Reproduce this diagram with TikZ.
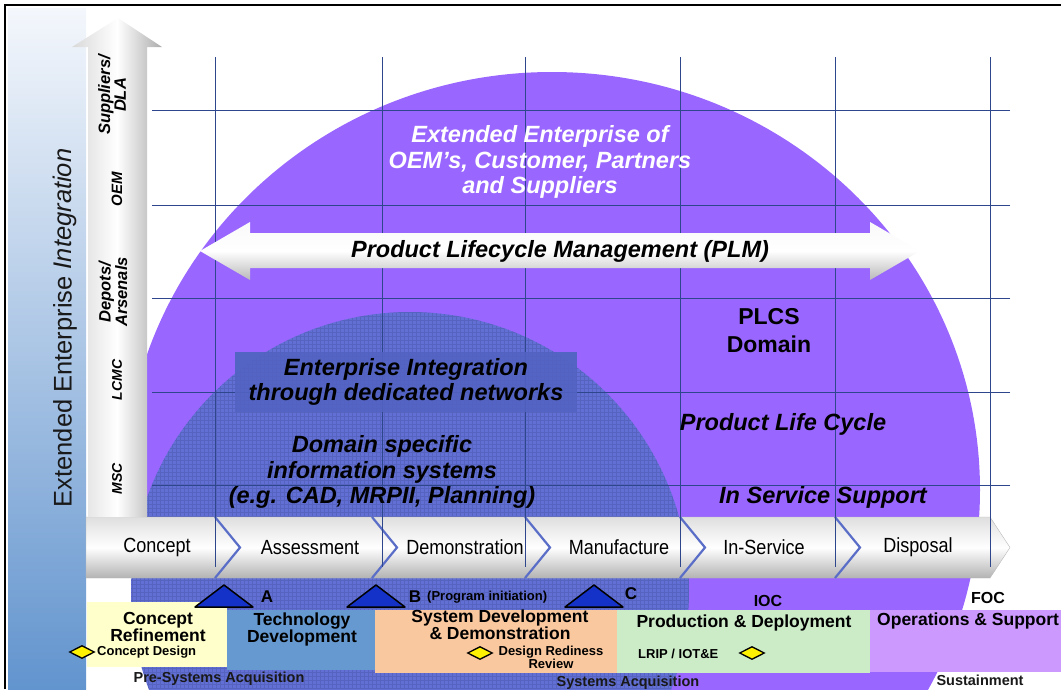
\documentclass[tikz,border=0pt]{standalone}
\usepackage{fontspec}
\setmainfont{Liberation Sans}
\usetikzlibrary{shapes.geometric}

\definecolor{bigPurple}{RGB}{153,102,255}
\definecolor{innerBlue}{RGB}{98,112,214}
\definecolor{netBlue}{RGB}{84,100,196}
\definecolor{gridBlue}{RGB}{45,70,140}
\definecolor{stripTop}{RGB}{244,247,252}
\definecolor{stripBot}{RGB}{98,148,206}
\definecolor{crYellow}{RGB}{255,255,204}
\definecolor{tdBlue}{RGB}{102,153,208}
\definecolor{sddPeach}{RGB}{250,200,158}
\definecolor{pdGreen}{RGB}{204,236,200}
\definecolor{osPurple}{RGB}{204,153,255}
\definecolor{msBlue}{RGB}{20,50,200}
\definecolor{chevLine}{RGB}{90,110,200}

\newcommand{\rowTop}{517}
\newcommand{\rowBot}{578}
\newcommand{\rowMid}{547.5}
\newcommand{\tipDepth}{25}
\newcommand{\gridLeft}{152}
\newcommand{\gridRight}{1010}
\newcommand{\gridTop}{57}
\newcommand{\gridBot}{567}

\tikzset{
    bigText/.style={font=\fontsize{23.5}{25.5}\selectfont\bfseries\itshape, align=center, inner sep=0pt},
    domainText/.style={font=\fontsize{23}{28}\selectfont\bfseries, align=center, inner sep=0pt},
    axisText/.style={font=\fontsize{25.5}{26}\selectfont, text=black!90, rotate=90, inner sep=0pt},
    levelText/.style={font=\fontsize{16.5}{14}\selectfont\bfseries\itshape, align=center, rotate=90, inner sep=0pt},
    chevText/.style={font=\fontsize{20.5}{22}\selectfont, xscale=0.88, inner sep=0pt},
    phaseText/.style={font=\fontsize{17.5}{17}\selectfont\bfseries, align=center, inner sep=0pt},
    noteText/.style={font=\fontsize{13}{11}\selectfont\bfseries, align=center, inner sep=0pt},
    msText/.style={font=\fontsize{17}{17}\selectfont\bfseries, inner sep=0pt},
    stageText/.style={font=\fontsize{14.5}{15}\selectfont\bfseries, text=black!90, inner sep=0pt},
    gridLine/.style={draw=gridBlue, line width=0.8pt},
    chevSep/.style={draw=chevLine, line width=2.2pt},
    msTri/.style={fill=msBlue, draw=black, line width=1.5pt, line join=round},
    reviewMark/.style={diamond, fill=yellow, draw=black, line width=1.3pt, minimum width=25pt, minimum height=13pt, inner sep=0pt}
}

\begin{document}
\begin{tikzpicture}[x=1pt,y=-1pt]
    \useasboundingbox (0,0) rectangle (1061,689);
    \clip (0,0) rectangle (1061,689);

    % Side strip
    \shade[top color=stripTop, bottom color=stripBot] (8,8) rectangle (86,689);

    % Domains
    \fill[bigPurple] (552,490) ellipse [x radius=428pt, y radius=418pt];
    \fill[innerBlue] (410,591) circle [radius=279pt];
    \fill[netBlue] (235,352) rectangle (577,412);
    \begin{scope}
        \clip (410,591) circle [radius=279pt];
        \draw[innerBlue!70!black, line width=0.3pt, opacity=0.35, step=4pt] (120,300) grid (700,689);
    \end{scope}

    % Life cycle row
    \shade[top color=gray!25, bottom color=gray!60, middle color=white, draw=gray!55]
        (86,\rowTop) -- (990,\rowTop) -- (1010,\rowMid) -- (990,\rowBot) -- (86,\rowBot) -- cycle;
    \foreach \cx in {215,372,525,680,835}
        \draw[chevSep] (\cx,\rowTop) -- (\cx+\tipDepth,\rowMid) -- (\cx,\rowBot);
    \foreach \cx/\name/\txt in {157/stConcept/Concept, 310/stAssess/Assessment, 465/stDemo/Demonstration,
                                619/stManuf/Manufacture, 764/stService/In-Service, 918/stDisposal/Disposal}
        \node[chevText] (\name) at (\cx,\rowMid) {\txt};

    % Grid
    \foreach \gy in {110,205,298,392,485}
        \draw[gridLine] (\gridLeft,\gy) -- (\gridRight,\gy);
    \foreach \gx in {215,382,525,680,835,990}
        \draw[gridLine] (\gx,\gridTop) -- (\gx,\gridBot);
    \fill[netBlue, opacity=0.85] (235,352) rectangle (577,412);

    % PLM arrow
    \shade[top color=gray!5, bottom color=gray!55, middle color=white]
        (200,251) -- (250,222) -- (250,233) -- (870,233) -- (870,222) -- (920,251)
        -- (870,280) -- (870,268) -- (250,268) -- (250,280) -- cycle;
    \node[bigText] (plm) at (560,251) {Product Lifecycle Management (PLM)};

    % Integration arrow
    \shade[left color=gray!30, right color=gray!65, middle color=white]
        (88,\rowTop) -- (88,47) -- (72,47) -- (118,18) -- (162,47) -- (147,47) -- (147,\rowTop) -- cycle;
    \node[levelText] (lvSupp) at (112,95) {Suppliers/\\DLA};
    \node[levelText, font=\fontsize{15}{14}\selectfont\bfseries\itshape] (lvOem) at (117,189) {OEM};
    \node[levelText] (lvDepot) at (113,292) {Depots/\\Arsenals};
    \node[levelText, font=\fontsize{14}{14}\selectfont\bfseries\itshape] (lvLcmc) at (117,380) {LCMC};
    \node[levelText, font=\fontsize{14}{14}\selectfont\bfseries\itshape] (lvMsc) at (117,479) {MSC};
    \node[axisText] (axis) at (65,328) {Extended Enterprise \textit{Integration}};

    % Domain texts
    \node[bigText, text=white] (extEnt) at (540,162) {Extended Enterprise of\\OEM’s, Customer, Partners\\and Suppliers};
    \node[bigText] (entInt) at (406,382) {Enterprise Integration\\through dedicated networks};
    \node[bigText] (domSpec) at (382,472) {Domain specific\\information systems\\(e.g. CAD, MRPII, Planning)};
    \node[domainText] (plcs) at (769,331) {PLCS\\Domain};
    \node[bigText] (plc) at (783,424) {Product Life Cycle};
    \node[bigText] (iss) at (823,497) {In Service Support};

    % Phases
    \fill[crYellow] (87,602) rectangle (227,667);
    \fill[tdBlue] (227,610) rectangle (375,670);
    \fill[sddPeach] (375,610) rectangle (617,673);
    \fill[pdGreen] (617,610) rectangle (870,673);
    \fill[osPurple] (870,610) rectangle (1061,672);
    \node[phaseText] (phCR) at (158,627) {Concept\\Refinement};
    \node[phaseText] (phTD) at (302,629) {Technology\\Development};
    \node[phaseText] (phSDD) at (500,625) {System Development\\\& Demonstration};
    \node[phaseText] (phPD) at (744,623) {Production \& Deployment};
    \node[phaseText, anchor=west] (phOS) at (877,621) {Operations \& Support};

    % Reviews
    \node[reviewMark] (dmCD) at (82,652) {};
    \node[noteText, anchor=west] (ntCD) at (97,652) {Concept Design};
    \node[reviewMark] (dmDRR) at (480,653) {};
    \node[noteText] (ntDRR) at (551,657) {Design Rediness\\Review};
    \node[noteText, anchor=west] (ntLRIP) at (638,654) {LRIP / IOT\&E};
    \node[reviewMark] (dmLRIP) at (752,653) {};

    % Milestones
    \foreach \tx in {195,347,565}
        \filldraw[msTri] (\tx,607) -- (\tx+29,585) -- (\tx+58,607) -- cycle;
    \node[msText] (msA) at (267,597) {A};
    \node[msText] (msB) at (415,597) {B};
    \node[noteText, anchor=west] (msBNote) at (427,597) {(Program initiation)};
    \node[msText] (msC) at (631,594) {C};
    \node[msText, font=\fontsize{16}{16}\selectfont\bfseries] (ioc) at (768,601) {IOC};
    \node[msText, font=\fontsize{16}{16}\selectfont\bfseries] (foc) at (988,598) {FOC};

    % Stages
    \node[stageText] (stPre) at (219,679) {Pre-Systems Acquisition};
    \node[stageText] (stSys) at (628,683) {Systems Acquisition};
    \node[stageText] (stSus) at (980,680) {Sustainment};

    % Frame
    \draw[line width=2pt] (5,689) -- (5,5) -- (1061,5);
\end{tikzpicture}
\end{document}
